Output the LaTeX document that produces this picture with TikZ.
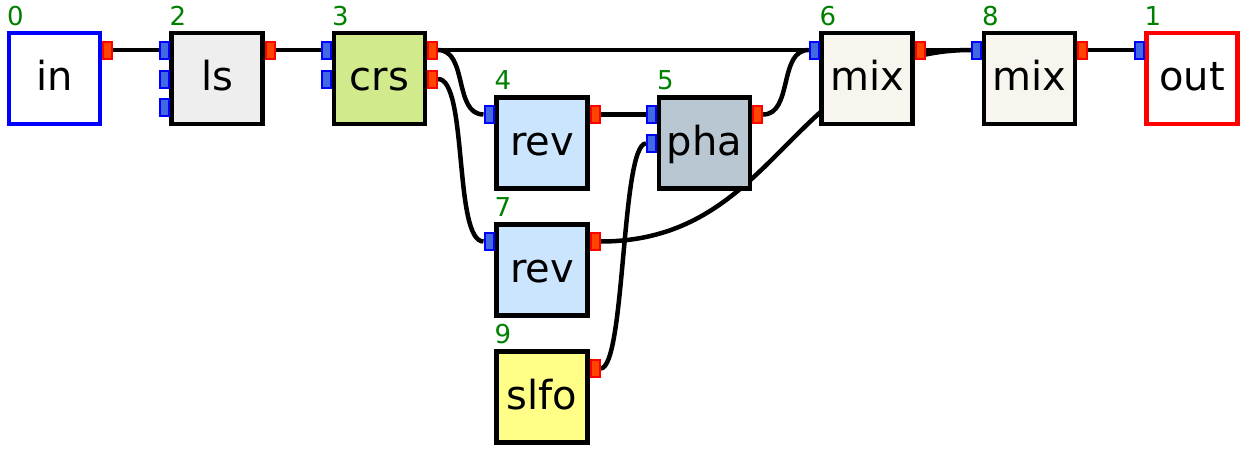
\documentclass[tikz,border=0pt]{standalone}
\usepackage{fontspec}
\setmainfont{DejaVu Sans}
\usetikzlibrary{backgrounds}
\definecolor{pinfill}{HTML}{4169E1}
\definecolor{pinline}{HTML}{0000FF}
\definecolor{poutfill}{HTML}{FF4500}
\definecolor{poutline}{HTML}{FF0000}
\definecolor{labgreen}{HTML}{008000}
\definecolor{lsfill}{HTML}{EEEEEE}
\definecolor{crsfill}{HTML}{D0EA8C}
\definecolor{revfill}{HTML}{CCE5FF}
\definecolor{phafill}{HTML}{B9C7D2}
\definecolor{mixfill}{HTML}{F7F5EE}
\definecolor{slfofill}{HTML}{FFFF88}
\tikzset{
  blk/.style={draw=black, line width=4.5pt, minimum width=91pt, minimum height=91pt, inner sep=0pt,
    text height=24pt, text depth=0pt, font=\fontsize{40pt}{48pt}\selectfont},
  portin/.style={draw=pinline, fill=pinfill, line width=2pt, minimum width=9pt, minimum height=17pt, inner sep=0pt},
  portout/.style={draw=poutline, fill=poutfill, line width=2pt, minimum width=9pt, minimum height=17pt, inner sep=0pt},
  numlab/.style={anchor=base west, inner sep=0pt, text=labgreen, font=\fontsize{26pt}{30pt}\selectfont},
  wire/.style={draw=black, line width=4.5pt}
}
\begin{document}
\begin{tikzpicture}[x=1pt,y=-1pt]
\useasboundingbox (0,0) rectangle (1247,450);
% boxes
\node[blk, draw=pinline, fill=white] (b0) at (54.5,78.5) {in};
\node[blk, fill=lsfill] (b2) at (217,78.5) {ls};
\node[blk, fill=crsfill] (b3) at (379.5,78.5) {crs};
\node[blk, fill=revfill] (b4) at (542,143) {rev};
\node[blk, fill=phafill] (b5) at (704.5,143) {pha};
\node[blk, fill=mixfill] (b6) at (867,78.5) {mix};
\node[blk, fill=mixfill] (b8) at (1029.5,78.5) {mix};
\node[blk, draw=poutline, fill=white] (b1) at (1192,78.5) {out};
\node[blk, fill=revfill] (b7) at (542,270) {rev};
\node[blk, fill=slfofill] (b9) at (542,397) {slfo};
% number labels
\node[numlab] (l0) at (7,25) {0};
\node[numlab] (l2) at (169.5,25) {2};
\node[numlab] (l3) at (332,25) {3};
\node[numlab] (l4) at (494.5,89.5) {4};
\node[numlab] (l5) at (657,89.5) {5};
\node[numlab] (l6) at (819.5,25) {6};
\node[numlab] (l8) at (982,25) {8};
\node[numlab] (l1) at (1144.5,25) {1};
\node[numlab] (l7) at (494.5,216.5) {7};
\node[numlab] (l9) at (494.5,343.5) {9};
% ports
\node[portout] (p0o) at (107.5,50) {};
\node[portin] (p2i1) at (164,50) {};
\node[portin] (p2i2) at (164,79) {};
\node[portin] (p2i3) at (164,107.5) {};
\node[portout] (p2o) at (270,50) {};
\node[portin] (p3i1) at (326.5,50) {};
\node[portin] (p3i2) at (326.5,79) {};
\node[portout] (p3o1) at (432.5,50) {};
\node[portout] (p3o2) at (432.5,79) {};
\node[portin] (p4i) at (489,114.5) {};
\node[portout] (p4o) at (595,114.5) {};
\node[portin] (p5i1) at (651.5,114.5) {};
\node[portin] (p5i2) at (651.5,143.5) {};
\node[portout] (p5o) at (757.5,114.5) {};
\node[portin] (p6i) at (814,50) {};
\node[portout] (p6o) at (920,50) {};
\node[portin] (p8i) at (976.5,50) {};
\node[portout] (p8o) at (1082.5,50) {};
\node[portin] (p1i) at (1139,50) {};
\node[portin] (p7i) at (489,241.5) {};
\node[portout] (p7o) at (595,241.5) {};
\node[portout] (p9o) at (595,368.5) {};
% wires
\begin{pgfonlayer}{background}
\draw[wire] (p0o.east) -- (p2i1.west);
\draw[wire] (p2o.east) -- (p3i1.west);
\draw[wire] (p3o1.east) -- (p6i.west);
\draw[wire] (p3o1.east) .. controls +(30,0) and +(-30,0) .. (p4i.west);
\draw[wire] (p3o2.east) .. controls +(30,0) and +(-30,0) .. (p7i.west);
\draw[wire] (p4o.east) -- (p5i1.west);
\draw[wire] (p5o.east) .. controls +(30,0) and +(-30,0) .. (p6i.west);
\draw[wire] (p7o.east) .. controls +(180,0) and +(-180,0) .. (p8i.west);
\draw[wire] (p9o.east) .. controls +(25,0) and +(-25,0) .. (p5i2.west);
\draw[wire] (p6o.east) -- (p8i.west);
\draw[wire] (p8o.east) -- (p1i.west);
\end{pgfonlayer}
\end{tikzpicture}
\end{document}
